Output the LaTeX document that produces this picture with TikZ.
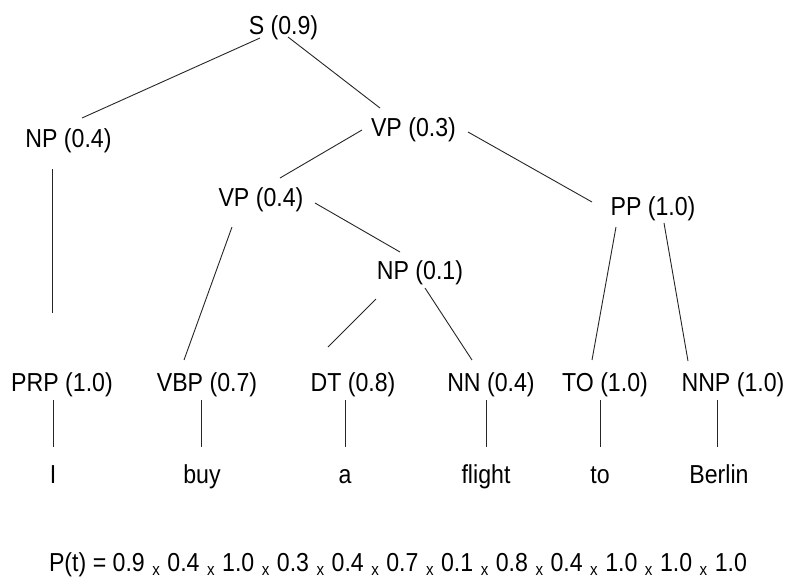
\documentclass[tikz,border=0pt]{standalone}
\usepackage{fontspec}
\setmainfont{Liberation Sans}[FakeStretch=0.89]
\usetikzlibrary{calc}
\tikzset{
  lbl/.style={anchor=base, inner sep=0pt, font=\fontsize{26}{30}\selectfont},
  edge/.style={line width=0.9pt, draw=black!85},
}
\newcommand{\tms}{\hspace{7.5pt}{\fontsize{17}{17}\selectfont\raisebox{-4pt}{x}}\hspace{7.5pt}}
\begin{document}
\begin{tikzpicture}[x=1pt,y=-1pt]
\useasboundingbox (0,0) rectangle (788,582);
\fill[white] (0,0) rectangle (788,582);
% nonterminals
\node[lbl] (S)   at (283.5,34)  {S (0.9)};
\node[lbl] (NPa) at (68.5,147)  {NP (0.4)};
\node[lbl] (VPa) at (413.5,136) {VP (0.3)};
\node[lbl] (VPb) at (261,206)   {VP (0.4)};
\node[lbl] (PP)  at (653,215)   {PP (1.0)};
\node[lbl] (NPb) at (420,279)   {NP (0.1)};
% preterminals
\node[lbl] (PRP) at (62,391)  {PRP (1.0)};
\node[lbl] (VBP) at (207,391) {VBP (0.7)};
\node[lbl] (DT)  at (353,391) {DT (0.8)};
\node[lbl] (NN)  at (491,391) {NN (0.4)};
\node[lbl] (TO)  at (605,391) {TO (1.0)};
\node[lbl] (NNP) at (733,391) {NNP (1.0)};
% words
\node[lbl] (w1) at (53,483)  {I};
\node[lbl] (w2) at (202,483) {buy};
\node[lbl] (w3) at (345,483) {a};
\node[lbl] (w4) at (486,483) {flight};
\node[lbl] (w5) at (600,483) {to};
\node[lbl] (w6) at (719,483) {Berlin};
% formula
\node[lbl] (P) at (398,571) {P(t) = 0.9\tms 0.4\tms 1.0\tms 0.3\tms 0.4\tms 0.7\tms 0.1\tms 0.8\tms 0.4\tms 1.0\tms 1.0\tms 1.0};
% tree edges
\draw[edge] ($(S.base)+(-23.5,4)$) -- ($(NPa.base)+(13.5,-29)$);
\draw[edge] ($(S.base)+(4.5,3)$) -- ($(VPa.base)+(-33.5,-28)$);
\draw[edge] ($(NPa.base)+(-16.5,22)$) -- ($(PRP.base)+(-10,-78)$);
\draw[edge] ($(VPa.base)+(-51.5,-6)$) -- ($(VPb.base)+(19,-28)$);
\draw[edge] ($(VPa.base)+(54.5,-4)$) -- ($(PP.base)+(-61,-13)$);
\draw[edge] ($(VPb.base)+(-29,21)$) -- ($(VBP.base)+(-23,-31)$);
\draw[edge] ($(VPb.base)+(54,-3)$) -- ($(NPb.base)+(-20,-27)$);
\draw[edge] ($(NPb.base)+(-44,20)$) -- ($(DT.base)+(-25,-44)$);
\draw[edge] ($(NPb.base)+(5,9)$) -- ($(NN.base)+(-19,-31)$);
\draw[edge] ($(PP.base)+(-37,12)$) -- ($(TO.base)+(-13,-31)$);
\draw[edge] ($(PP.base)+(11,8)$) -- ($(NNP.base)+(-45,-30)$);
% preterminal to word
\draw[edge] ($(PRP.base)+(-9,9)$) -- ($(w1.base)+(0,-36)$);
\draw[edge] ($(VBP.base)+(-6,9)$) -- ($(w2.base)+(-1,-36)$);
\draw[edge] ($(DT.base)+(-8,9)$) -- ($(w3.base)+(0,-36)$);
\draw[edge] ($(NN.base)+(-5,9)$) -- ($(w4.base)+(0,-36)$);
\draw[edge] ($(TO.base)+(-5,9)$) -- ($(w5.base)+(0,-36)$);
\draw[edge] ($(NNP.base)+(-16,9)$) -- ($(w6.base)+(-2,-36)$);
\end{tikzpicture}
\end{document}
